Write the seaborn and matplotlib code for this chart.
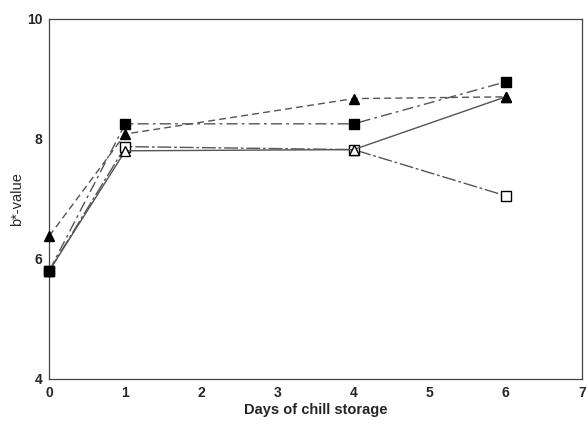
import numpy as np
import pandas as pd
import matplotlib
matplotlib.use('Agg')
import matplotlib.pyplot as plt
import seaborn as sns

# ============ data ============
days = [0, 1, 4, 6]
filled_square = [5.8, 8.25, 8.25, 8.95]
filled_triangle = [6.38, 8.08, 8.67, 8.7]
open_square = [5.8, 7.87, 7.82, 7.05]
open_triangle = [5.8, 7.8, 7.82, 8.7]

# drawing order: open marks first, filled marks on top
series_names = ['open_square', 'open_triangle', 'filled_triangle', 'filled_square']
series_values = [open_square, open_triangle, filled_triangle, filled_square]

x_ticks = [0, 1, 2, 3, 4, 5, 6, 7]
y_ticks = [4, 6, 8, 10]

df = pd.DataFrame({
    'day': days * len(series_names),
    'b': np.concatenate(series_values),
    'series': np.repeat(series_names, len(days)),
})

# ============ style ============
sns.set_style('white')
plt.rcParams['font.family'] = ['Liberation Sans', 'DejaVu Sans']

styles = {
    'filled_square':   dict(marker='s', mfc='black', ls=(0, (8, 3, 2, 3))),
    'filled_triangle': dict(marker='^', mfc='black', ls=(0, (5, 3))),
    'open_square':     dict(marker='s', mfc='white', ls=(0, (10, 2, 2, 2))),
    'open_triangle':   dict(marker='^', mfc='white', ls='-'),
}

fig = plt.figure(figsize=(5.86, 4.28), dpi=100)
ax = fig.add_axes([0.084, 0.115, 0.909, 0.841])

for name in series_names:
    st = styles[name]
    sub = df[df['series'] == name]
    sns.lineplot(data=sub, x='day', y='b', ax=ax, color='#555555', lw=1.0,
                 linestyle=st['ls'], marker=st['marker'], markersize=6.5,
                 markerfacecolor=st['mfc'], markeredgecolor='black',
                 markeredgewidth=1.0, legend=False, clip_on=False, zorder=3)

ax.set_xlim(0, 7)
ax.set_ylim(4, 10)
ax.set_xticks(x_ticks)
ax.set_yticks(y_ticks)
ax.tick_params(length=0, labelsize=10, pad=5)
for lab in ax.get_xticklabels() + ax.get_yticklabels():
    lab.set_fontweight('bold')
ax.set_xlabel('Days of chill storage', fontsize=10.5, fontweight='bold', labelpad=2)
ax.set_ylabel('b*-value', fontsize=10.5, labelpad=2)
for sp in ax.spines.values():
    sp.set_color('#444444')
    sp.set_linewidth(0.9)

fig.savefig('out.png', dpi=100)
